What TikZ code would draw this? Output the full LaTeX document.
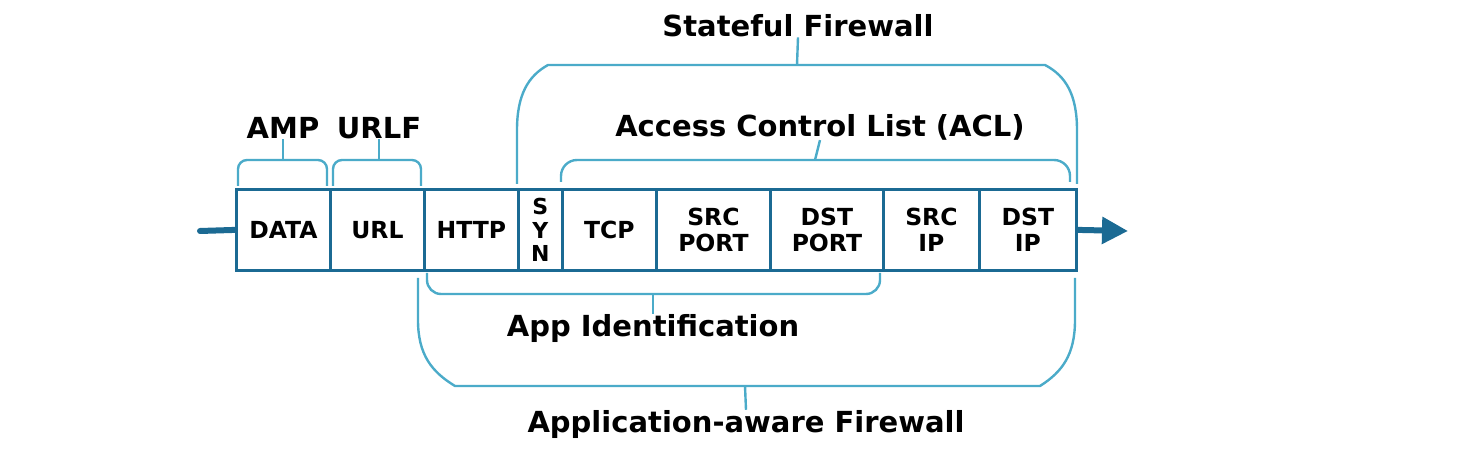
\documentclass[tikz,border=0pt]{standalone}
\usepackage{fontspec}
\setmainfont{DejaVu Sans}
\usetikzlibrary{arrows.meta}
\definecolor{pk}{HTML}{1B6A93}
\definecolor{br}{HTML}{4BABC9}
\begin{document}
\begin{tikzpicture}[x=1pt,y=-1pt,
  cell/.style={draw=pk,line width=2.8pt,minimum height=81pt,inner sep=0pt,anchor=north west,align=center,font=\fontsize{23.5}{26}\selectfont\bfseries},
  brk/.style={draw=br,line width=2.4pt,rounded corners=9pt},
  lbl/.style={font=\fontsize{29}{31}\selectfont\bfseries,inner sep=0pt}]
\useasboundingbox (0,0) rectangle (1468,454);
\node[cell,minimum width=94pt] (data) at (235,188) {DATA};
\node[cell,minimum width=94pt] (url) at (329,188) {URL};
\node[cell,minimum width=94pt] (http) at (423,188) {HTTP};
\node[cell,minimum width=44pt,font=\fontsize{22}{23.5}\selectfont\bfseries] (syn) at (517,188) {S\\Y\\N};
\node[cell,minimum width=94pt] (tcp) at (561,188) {TCP};
\node[cell,minimum width=114pt] (sp) at (655,188) {SRC\\PORT};
\node[cell,minimum width=113pt] (dp) at (769,188) {DST\\PORT};
\node[cell,minimum width=96pt] (si) at (882,188) {SRC\\IP};
\node[cell,minimum width=97pt] (di) at (978,188) {DST\\IP};
\coordinate (in) at (200,231);
\coordinate (out) at (1128,231);
\draw[pk,line width=6pt,line cap=round] (in) -- (data.west);
\draw[pk,line width=6pt,-{Triangle[length=26pt,width=26pt]}] (di.east) -- (out);
% labels
\node[lbl] (amp) at (283,128) {AMP};
\node[lbl] (urlf) at (379,128) {URLF};
\node[lbl] (acl) at (820,127) {Access Control List (ACL)};
\node[lbl] (sf) at (798,26) {Stateful Firewall};
\node[lbl] (appid) at (653,328) {App Identification};
\node[lbl] (aaf) at (746,424) {Application-aware Firewall};
% brackets
\draw[brk] (238,186) -- (238,160) -- (327,160) -- (327,186);
\draw[br,line width=2.4pt] (283,160) -- (amp.south);
\draw[brk] (333,186) -- (333,160) -- (421,160) -- (421,186);
\draw[br,line width=2.4pt] (379,160) -- (urlf.south);
\draw[brk,rounded corners=16pt] (561,182) -- (561,160) -- (1070,160) -- (1070,182);
\draw[br,line width=2.4pt] (815,160) -- (acl.south);
\draw[br,line width=2.4pt] (517,184) -- (517,130) .. controls (517,95) and (528,76) .. (548,65) -- (1045,65) .. controls (1066,76) and (1077,95) .. (1077,130) -- (1077,184);
\draw[br,line width=2.4pt] (797,65) -- (sf.south);
\draw[brk,rounded corners=14pt] (427,273) -- (427,294) -- (880,294) -- (880,273);
\draw[br,line width=2.4pt] (653,294) -- (appid.north);
\draw[br,line width=2.4pt] (418,278) -- (418,320) .. controls (418,355) and (432,372) .. (455,386) -- (1040,386) .. controls (1062,372) and (1075,355) .. (1075,320) -- (1075,278);
\draw[br,line width=2.4pt] (745,386) -- (aaf.north);
\end{tikzpicture}
\end{document}
